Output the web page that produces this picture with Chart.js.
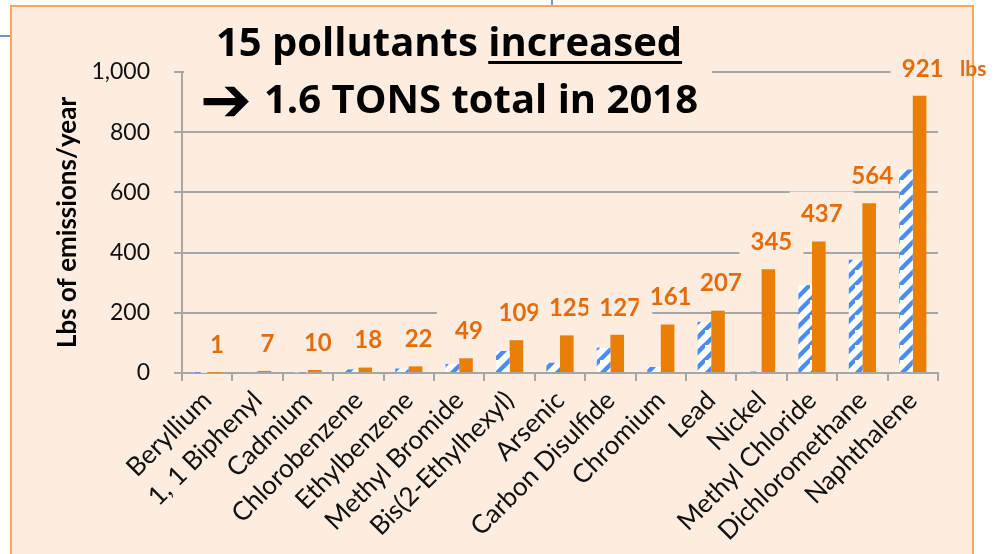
<!DOCTYPE html>
<html>
<head>
<meta charset="utf-8">
<title>15 pollutants increased</title>
<script src="https://cdn.jsdelivr.net/npm/chart.js@4"></script>
<style>
    body { margin: 0; background: #fff; width: 994px; height: 554px; overflow: hidden; position: relative; }
    .panel { position: absolute; left: 10px; top: 5px; width: 964px; height: 600px; box-sizing: border-box;
             background: #fdece0; border: 2px solid #f7a85e; }
    .mark-h { position: absolute; left: 0; top: 35px; width: 11px; height: 2px; background: #6a9ad6; }
    .mark-v { position: absolute; left: 551px; top: 0; width: 2px; height: 6px; background: #6a9ad6; }
    #chart { position: absolute; left: 0; top: 0; }
</style>
</head>
<body>
<div class="mark-h"></div>
<div class="mark-v"></div>
<div class="panel"></div>
<canvas id="chart" width="994" height="554"></canvas>
<script>
// Chart data
const categories = ['Beryllium', '1, 1 Biphenyl', 'Cadmium', 'Chlorobenzene', 'Ethylbenzene',
    'Methyl Bromide', 'Bis(2-Ethylhexyl)', 'Arsenic', 'Carbon Disulfide', 'Chromium',
    'Lead', 'Nickel', 'Methyl Chloride', 'Dichloromethane', 'Naphthalene'];
const emissionsBefore = [1, 3, 2, 12, 15, 30, 73, 34, 84, 20, 170, 5, 292, 376, 676];
const emissions2018 = [1, 7, 10, 18, 22, 49, 109, 125, 127, 161, 207, 345, 437, 564, 921];
const yTicks = [0, 200, 400, 600, 800, 1000];

const panelColor = '#fdece0';
const orange = '#ea7f05';
const labelOrange = '#e46c0a';
const gridColor = '#a6a6a6';

// Blue / white diagonal stripes for the earlier year
function makeStripes() {
    const size = 15;
    const c = document.createElement('canvas');
    c.width = size;
    c.height = size;
    const g = c.getContext('2d');
    g.fillStyle = '#ffffff';
    g.fillRect(0, 0, size, size);
    g.strokeStyle = '#4a8bf5';
    g.lineWidth = 4.4;
    g.beginPath();
    g.moveTo(-size, size * 2); g.lineTo(size * 2, -size);
    g.moveTo(-size * 2, size); g.lineTo(size, -size * 2);
    g.moveTo(0, size * 2); g.lineTo(size * 2, 0);
    g.stroke();
    return g.createPattern(c, 'repeat');
}

// Title box, value labels with their own background boxes
const overlayPlugin = {
    id: 'overlay',
    beforeDatasetsDraw(chart) {
        const ctx = chart.ctx;
        const area = chart.chartArea;
        ctx.save();

        // title block hides the top gridline
        ctx.fillStyle = panelColor;
        ctx.fillRect(area.left + 2, 15, 712 - area.left - 2, 110);

        const cx = 449;
        const titleFont = 'bold 40px "Open Sans"';
        ctx.fillStyle = '#000';
        ctx.textBaseline = 'alphabetic';
        ctx.textAlign = 'left';
        ctx.font = titleFont;
        const part1 = '15 pollutants ';
        const part2 = 'increased';
        const w1 = ctx.measureText(part1).width;
        const w2 = ctx.measureText(part2).width;
        let x = cx - (w1 + w2) / 2;
        ctx.fillText(part1, x, 56);
        ctx.fillText(part2, x + w1, 56);
        ctx.fillRect(x + w1, 61, w2, 3);

        const arrow = '\u2794';
        const rest = '1.6 TONS total in 2018';
        const arrowFont = 'bold 62px "DejaVu Sans"';
        ctx.font = arrowFont;
        const wa = ctx.measureText(arrow).width;
        ctx.font = titleFont;
        const wr = ctx.measureText(rest).width;
        x = cx - (wa + 12 + wr) / 2;
        ctx.font = arrowFont;
        ctx.fillText(arrow, x, 121);
        ctx.font = titleFont;
        ctx.fillText(rest, x + wa + 12, 113);

        // value labels above the 2018 bars
        const meta = chart.getDatasetMeta(1);
        ctx.font = 'bold 24px Lato';
        ctx.textAlign = 'center';
        ctx.textBaseline = 'middle';
        meta.data.forEach((bar, i) => {
            const lx = bar.x + 3;
            const ly = bar.y - 27;
            ctx.fillStyle = panelColor;
            ctx.fillRect(lx - 32, ly - 23, 64, 36);
            ctx.fillStyle = labelOrange;
            ctx.fillText(emissions2018[i], lx, ly);
        });

        ctx.font = 'bold 21px Lato';
        ctx.textAlign = 'left';
        ctx.fillText('lbs', area.right + 22, 69);
        ctx.restore();
    }
};

new Chart(document.getElementById('chart'), {
    type: 'bar',
    plugins: [overlayPlugin],
    data: {
        labels: categories,
        datasets: [{
            data: emissionsBefore,
            backgroundColor: makeStripes(),
            borderWidth: 0,
            categoryPercentage: 0.54,
            barPercentage: 1
        }, {
            data: emissions2018,
            backgroundColor: orange,
            borderWidth: 0,
            categoryPercentage: 0.54,
            barPercentage: 1
        }]
    },
    options: {
        responsive: false,
        animation: false,
        events: [],
        layout: { padding: { left: 52, top: 72, right: 56, bottom: 0 } },
        plugins: {
            legend: { display: false },
            tooltip: { enabled: false }
        },
        scales: {
            x: {
                grid: { drawOnChartArea: false, color: gridColor, lineWidth: 2, tickLength: 8 },
                border: { color: gridColor, width: 2 },
                ticks: { font: { family: 'Lato', size: 26 }, color: '#111', minRotation: 45, maxRotation: 45, autoSkip: false, padding: 4 },
                afterFit: (scale) => { scale.height = 181; }
            },
            y: {
                min: 0,
                max: 1000,
                afterBuildTicks: (scale) => { scale.ticks = yTicks.map(v => ({ value: v })); },
                grid: { color: gridColor, lineWidth: 2, tickLength: 8 },
                border: { color: gridColor, width: 2 },
                ticks: {
                    font: { family: 'Lato', size: 23 },
                    color: '#111',
                    padding: 24,
                    callback: (v) => v.toLocaleString('en-US')
                },
                title: {
                    display: true,
                    text: 'Lbs of emissions/year',
                    font: { family: 'Lato', size: 26, weight: 'bold' },
                    color: '#000',
                    padding: { top: 0, bottom: 0 }
                },
                afterFit: (scale) => { scale.width = 130; }
            }
        }
    }
});
</script>
</body>
</html>
